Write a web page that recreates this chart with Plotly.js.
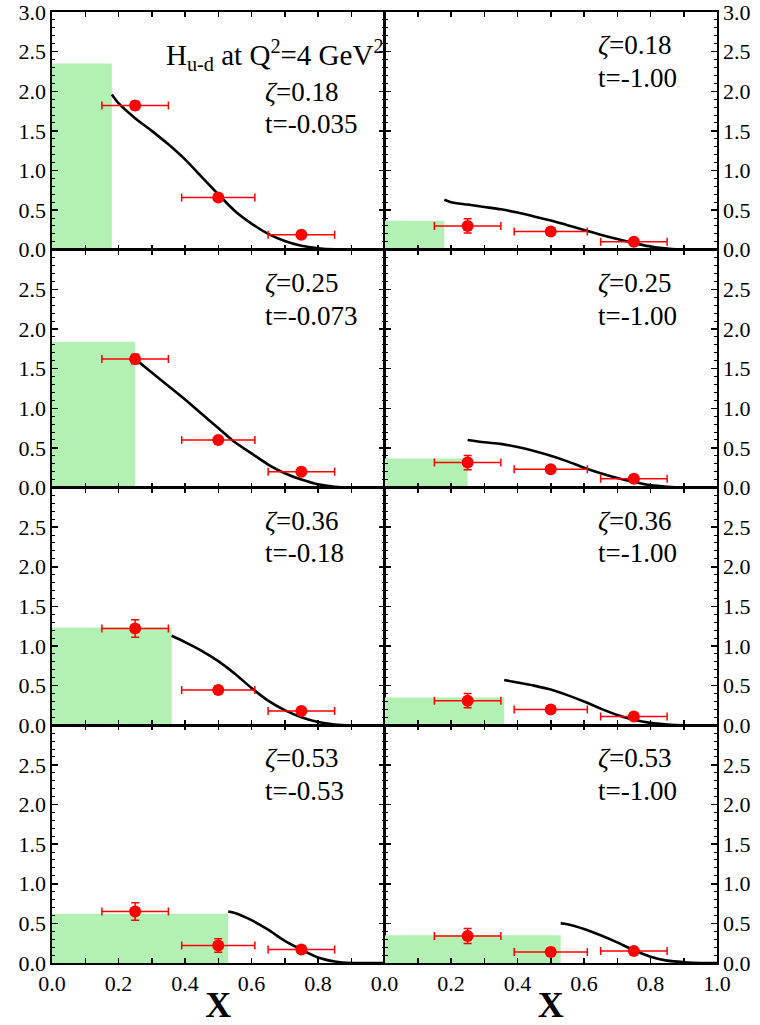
<!DOCTYPE html>
<html>
<head>
<meta charset="utf-8">
<script src="https://cdn.plot.ly/plotly-3.0.1.min.js"></script>
<style>html,body{margin:0;padding:0;background:#fff;}#chart{width:760px;height:1025px;}</style>
</head>
<body>
<div id="chart"></div>
<script>
// ---- data ----
const zetaVals = [0.18, 0.25, 0.36, 0.53];
const zetaLabels = ['0.18', '0.25', '0.36', '0.53'];
const tLeftLabels = ['-0.035', '-0.073', '-0.18', '-0.53'];
const tRightLabels = ['-1.00', '-1.00', '-1.00', '-1.00'];

const boxLeft = [2.35, 1.84, 1.235, 0.62];
const boxRight = [0.365, 0.365, 0.35, 0.35];

const pointX = [0.25, 0.5, 0.75];
const pointXErr = [0.1, 0.11, 0.1];

const pointsLeft = [
  [1.82, 0.66, 0.19],
  [1.62, 0.60, 0.20],
  [1.22, 0.445, 0.18],
  [0.65, 0.22, 0.17]
];
const errLeft = [
  [0.05, 0.04, 0.03],
  [0.06, 0.04, 0.03],
  [0.11, 0.05, 0.03],
  [0.11, 0.085, 0.04]
];
const pointsRight = [
  [0.30, 0.23, 0.10],
  [0.315, 0.23, 0.11],
  [0.31, 0.20, 0.11],
  [0.34, 0.14, 0.15]
];
const errRight = [
  [0.09, 0.04, 0.03],
  [0.09, 0.04, 0.03],
  [0.09, 0.04, 0.03],
  [0.095, 0.05, 0.03]
];

const curveX1 = [0.18,0.2,0.25,0.3,0.35,0.4,0.45,0.5,0.55,0.6,0.65,0.7,0.75,0.8,0.85,0.9,0.95,1.0];
const curveL1 = [1.96,1.85,1.66,1.50,1.33,1.14,0.92,0.70,0.49,0.33,0.20,0.11,0.05,0.02,0.005,0,0,0];
const curveR1 = [0.63,0.60,0.57,0.54,0.51,0.47,0.42,0.37,0.31,0.25,0.19,0.135,0.085,0.04,0.015,0,0,0];

const curveX2 = [0.25,0.3,0.35,0.4,0.45,0.5,0.55,0.6,0.65,0.7,0.75,0.8,0.85,0.9,0.95,1.0];
const curveL2 = [1.62,1.45,1.28,1.11,0.93,0.75,0.57,0.43,0.29,0.18,0.10,0.04,0.01,0,0,0];
const curveR2 = [0.60,0.57,0.55,0.51,0.46,0.40,0.33,0.25,0.18,0.12,0.07,0.03,0.01,0,0,0];

const curveX3 = [0.36,0.4,0.45,0.5,0.55,0.6,0.65,0.7,0.75,0.8,0.85,0.9,0.95,1.0];
const curveL3 = [1.13,1.05,0.94,0.81,0.65,0.47,0.31,0.19,0.10,0.04,0.01,0,0,0];
const curveR3 = [0.57,0.54,0.50,0.45,0.38,0.30,0.21,0.13,0.07,0.03,0.01,0,0,0];

const curveX4 = [0.53,0.55,0.6,0.65,0.7,0.75,0.8,0.85,0.9,0.95,1.0];
const curveL4 = [0.65,0.63,0.54,0.42,0.28,0.17,0.07,0.02,0,0,0];
const curveR4 = [0.50,0.49,0.43,0.35,0.26,0.16,0.08,0.03,0.01,0,0];

const curveXs = [curveX1, curveX2, curveX3, curveX4];
const curvesLeft = [curveL1, curveL2, curveL3, curveL4];
const curvesRight = [curveR1, curveR2, curveR3, curveR4];

const xTickValsLeft = [0, 0.2, 0.4, 0.6, 0.8];
const xTickValsRight = [0, 0.2, 0.4, 0.6, 0.8, 1.0];
const xTickText = ['0.0', '0.2', '0.4', '0.6', '0.8', '1.0'];
const yTickValsTop = [0, 0.5, 1.0, 1.5, 2.0, 2.5, 3.0];
const yTickValsOther = [0, 0.5, 1.0, 1.5, 2.0, 2.5];
const yTickText = ['0.0', '0.5', '1.0', '1.5', '2.0', '2.5', '3.0'];

// ---- styles ----
const FONT = 'Liberation Serif';
const GREEN = '#b3f0b3';
const RED = '#ff0000';

const traces = [];
const layout = {
  width: 760, height: 1025,
  margin: {l: 52, r: 43, t: 12, b: 62},
  paper_bgcolor: '#fff', plot_bgcolor: '#fff',
  showlegend: false,
  font: {family: FONT, size: 22, color: '#000'},
  annotations: [],
  barmode: 'overlay'
};

for (let row = 0; row < 4; row++) {
  for (let col = 0; col < 2; col++) {
    const n = row * 2 + col + 1;
    const xa = n === 1 ? 'x' : 'x' + n;
    const ya = n === 1 ? 'y' : 'y' + n;
    const xk = n === 1 ? 'xaxis' : 'xaxis' + n;
    const yk = n === 1 ? 'yaxis' : 'yaxis' + n;
    const z = zetaVals[row];
    const boxH = col === 0 ? boxLeft[row] : boxRight[row];
    const pts = col === 0 ? pointsLeft[row] : pointsRight[row];
    const errs = col === 0 ? errLeft[row] : errRight[row];
    const cy = col === 0 ? curvesLeft[row] : curvesRight[row];

    traces.push({
      type: 'bar', x: [z / 2], y: [boxH], width: [z],
      marker: {color: GREEN, line: {width: 0}},
      xaxis: xa, yaxis: ya, hoverinfo: 'skip'
    });
    traces.push({
      type: 'scatter', mode: 'lines', x: curveXs[row], y: cy,
      line: {color: '#000', width: 2.6, shape: 'spline', smoothing: 0.8},
      xaxis: xa, yaxis: ya, cliponaxis: false
    });
    traces.push({
      type: 'scatter', mode: 'markers', x: pointX, y: pts,
      marker: {color: RED, size: 12},
      error_x: {type: 'data', array: pointXErr, color: RED, thickness: 1.5, width: 4},
      error_y: {type: 'data', array: errs, color: RED, thickness: 1.5, width: 4},
      xaxis: xa, yaxis: ya
    });

    const x0 = col === 0 ? 0 : 0.5, x1 = col === 0 ? 0.5 : 1;
    const y1 = 1 - row / 4, y0 = 1 - (row + 1) / 4;
    const bottom = row === 3;
    const xtv = col === 0 ? xTickValsLeft : xTickValsRight;
    const xaxisDef = {
      domain: [x0, x1], anchor: ya, range: [0, 1],
      tickmode: 'array', tickvals: xtv, ticktext: xTickText.slice(0, xtv.length),
      showticklabels: bottom, ticklabeloverflow: 'allow',
      ticks: 'inside', ticklen: 5, tickwidth: 1.5, tickcolor: '#000',
      minor: {dtick: 0.1, ticks: 'inside', ticklen: 5, tickwidth: 1.5, tickcolor: '#000'},
      showline: true, linewidth: 1.6, linecolor: '#000', mirror: 'allticks',
      showgrid: false, zeroline: false,
      tickfont: {family: FONT, size: 22, color: '#000'}
    };
    if (bottom) {
      xaxisDef.title = {text: 'X', font: {family: FONT, size: 36, color: '#000', weight: 'bold'}, standoff: 2};
    }
    layout[xk] = xaxisDef;
    const tv = row === 0 ? yTickValsTop : yTickValsOther;
    layout[yk] = {
      domain: [y0, y1], anchor: xa, range: [0, 3],
      side: col === 0 ? 'left' : 'right',
      tickmode: 'array', tickvals: tv, ticktext: yTickText.slice(0, tv.length),
      ticklabeloverflow: 'allow',
      ticks: 'inside', ticklen: 6, tickwidth: 1.5, tickcolor: '#000',
      minor: {dtick: 0.1, ticks: 'inside', ticklen: 3, tickwidth: 1, tickcolor: '#000'},
      showline: true, linewidth: 1.6, linecolor: '#000', mirror: 'allticks',
      showgrid: false, zeroline: false,
      tickfont: {family: FONT, size: 22, color: '#000'}
    };

    const top = (row === 0 && col === 0);
    layout.annotations.push({
      xref: xa + ' domain', yref: ya + ' domain', x: 0.635, y: top ? 0.664 : 0.861,
      xanchor: 'left', yanchor: 'middle', showarrow: false,
      text: '<i>ζ</i>=' + zetaLabels[row],
      font: {family: FONT, size: 27, color: '#000'}
    });
    layout.annotations.push({
      xref: xa + ' domain', yref: ya + ' domain', x: 0.635, y: top ? 0.530 : 0.723,
      xanchor: 'left', yanchor: 'middle', showarrow: false,
      text: 't=' + (col === 0 ? tLeftLabels[row] : tRightLabels[row]),
      font: {family: FONT, size: 27, color: '#000'}
    });
  }
}
layout.annotations.push({
  xref: 'x domain', yref: 'y domain', x: 1.005, y: 0.82,
  xanchor: 'right', yanchor: 'middle', showarrow: false,
  text: 'H<sub>u-d</sub> at Q<sup>2</sup>=4 GeV<sup>2</sup>',
  font: {family: FONT, size: 29, color: '#000'}
});

Plotly.newPlot('chart', traces, layout, {staticPlot: true, displayModeBar: false});
</script>
</body>
</html>
